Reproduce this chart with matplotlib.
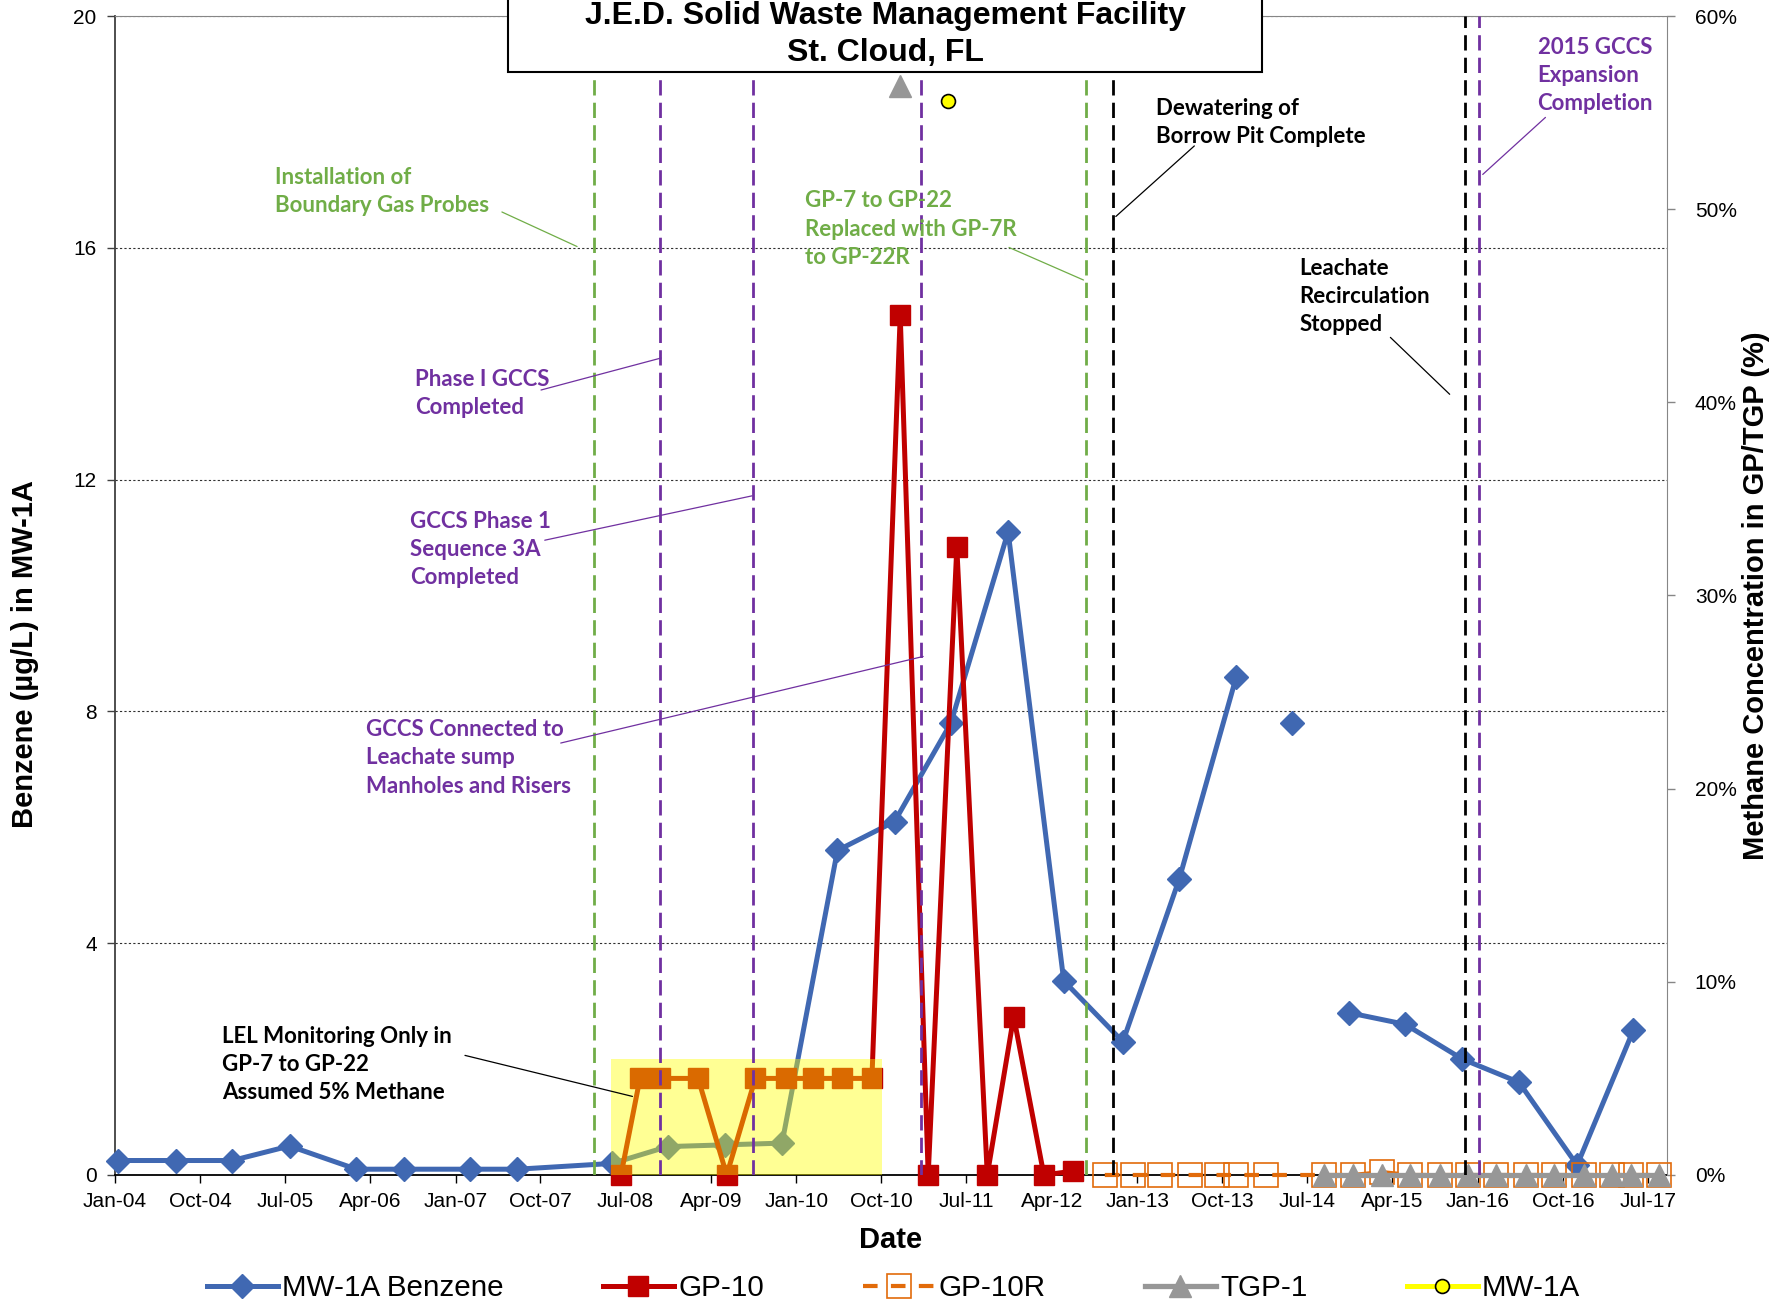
import numpy as np
import pandas as pd
import matplotlib
matplotlib.use('Agg')
import matplotlib.pyplot as plt
import matplotlib.dates as mdates
from matplotlib.patches import Rectangle
from matplotlib.ticker import FuncFormatter

nan = np.nan

# MW-1A benzene (ug/L), left axis
benzene_dates = ['2004-01-10', '2004-07-17', '2005-01-13', '2005-07-16', '2006-02-16',
                 '2006-07-19', '2007-02-16', '2007-07-19', '2008-05-19', '2008-11-13',
                 '2009-05-16', '2009-11-16', '2010-05-13', '2010-11-13', '2011-05-13',
                 '2011-11-13', '2012-05-10', '2012-11-16', '2013-05-16', '2013-11-16',
                 '2014-02-15', '2014-05-13', '2014-08-15', '2014-11-13', '2015-05-13',
                 '2015-11-13', '2016-05-13', '2016-11-16', '2017-05-16']
benzene = [0.25, 0.25, 0.25, 0.5, 0.1, 0.1, 0.1, 0.1, 0.2, 0.49,
           0.52, 0.55, 5.6, 6.1, 7.8, 11.1, 3.35, 2.3, 5.1, 8.6,
           nan, 7.8, nan, 2.8, 2.6, 2.0, 1.6, 0.17, 2.5]

# methane (%), right axis
gp10_dates = ['2008-06-16', '2008-08-16', '2008-10-19', '2009-02-19', '2009-05-22',
              '2009-08-22', '2009-11-28', '2010-02-25', '2010-05-28', '2010-09-01',
              '2010-12-01', '2011-03-01', '2011-06-01', '2011-09-07', '2011-12-01',
              '2012-03-07', '2012-06-10']
gp10 = [0, 5, 5, 5, 0, 5, 5, 5, 5, 5, 44.5, 0, 32.5, 0, 8.2, 0, 0.2]

gp10r_dates = ['2012-09-19', '2012-12-19', '2013-03-16', '2013-06-19', '2013-09-16',
               '2013-11-16', '2014-02-19', '2014-08-25', '2014-11-25', '2015-02-28',
               '2015-05-28', '2015-09-01', '2015-12-01', '2016-03-01', '2016-06-04',
               '2016-09-04', '2016-12-07', '2017-03-07', '2017-05-07', '2017-08-07']
gp10r = [0, 0, 0, 0, 0, 0, 0, 0, 0, 0.15, 0, 0, 0, 0, 0, 0, 0, 0, 0, 0]

tgp1_dates = ['2010-12-01', '2014-06-01', '2014-08-25', '2014-11-25', '2015-02-28',
              '2015-05-28', '2015-09-01', '2015-12-01', '2016-03-01', '2016-06-04',
              '2016-09-04', '2016-12-07', '2017-03-07', '2017-05-07', '2017-08-07']
tgp1 = [56.4, nan, 0, 0, 0, 0, 0, 0, 0, 0, 0, 0, 0, 0, 0]

mw1a_dates = ['2011-05-04']
mw1a = [55.6]

# site events (vertical lines)
event_dates = ['2008-03-20', '2008-10-19', '2009-08-13', '2011-02-07',
               '2012-07-22', '2012-10-16', '2015-11-22', '2016-01-04']
event_kind = ['green', 'purple', 'purple', 'purple', 'green', 'black', 'black', 'purple']

# LEL-only period (box)
lel_start, lel_end, lel_top = '2008-05-14', '2010-10-04', 2.0

BLUE = '#4068B2'
RED = '#C00000'
ORANGE = '#E26B0A'
GRAY = '#979797'
GREEN = '#70AD47'
PURPLE = '#7030A0'
KIND_COLOR = {'green': GREEN, 'purple': PURPLE, 'black': 'black'}

TXT = 'Liberation Sans'
NOTE = 'Lato'

to_dt = pd.to_datetime

fig = plt.figure(figsize=(17.87, 13.04), dpi=100)
ax = fig.add_axes([0.06424, 0.09893, 0.8686, 0.8888])
ax2 = ax.twinx()

ax.set_xlim(to_dt('2004-01-01'), to_dt('2017-09-01'))
ax.set_ylim(0, 20)
ax2.set_ylim(0, 60)

l_benz, = ax.plot(to_dt(benzene_dates), benzene, color=BLUE, lw=3.6, marker='D',
                  ms=12, label='MW-1A Benzene', zorder=3, clip_on=False)
l_gp10, = ax2.plot(to_dt(gp10_dates), gp10, color=RED, lw=3.6, marker='s', ms=14,
                   label='GP-10', zorder=3, clip_on=False)
l_gp10r, = ax2.plot(to_dt(gp10r_dates), gp10r, color=ORANGE, lw=3, ls=(0, (3.5, 3.2)),
                    marker='s', ms=17, mfc='none', mec=ORANGE, mew=1.2,
                    label='GP-10R', zorder=3, clip_on=False)
l_tgp, = ax2.plot(to_dt(tgp1_dates), tgp1, color=GRAY, lw=3.8, marker='^', ms=16,
                  label='TGP-1', zorder=4, clip_on=False)
l_mw, = ax2.plot(to_dt(mw1a_dates), mw1a, color='#FFFF00', lw=3.6, marker='o', ms=10,
                 mfc='#FFFF00', mec='black', mew=1.2, label='MW-1A', zorder=4)

# translucent LEL box over the data
x0 = mdates.date2num(to_dt(lel_start))
x1 = mdates.date2num(to_dt(lel_end))
ax2.add_patch(Rectangle((x0, 0), x1 - x0, lel_top * 3, facecolor='#FFFF00', alpha=0.42,
                        edgecolor='none', zorder=5))

for d, k in zip(event_dates, event_kind):
    ax2.axvline(to_dt(d), color=KIND_COLOR[k], lw=2, ls=(0, (5.5, 2.6)), zorder=6)

# axes styling
ticks = pd.date_range('2004-01-01', '2017-07-01', freq='9MS')
ax.set_xticks(ticks)
ax.xaxis.set_major_formatter(mdates.DateFormatter('%b-%y'))
ax.set_yticks(range(0, 21, 4))
ax2.set_yticks(range(0, 61, 10))
ax2.yaxis.set_major_formatter(FuncFormatter(lambda v, p: f'{v:.0f}%'))

ax.yaxis.grid(True, color='#303030', lw=0.8, ls=(0, (2, 2)))
ax.set_axisbelow(True)

for a in (ax, ax2):
    a.tick_params(labelsize=15, length=6, width=1, direction='out')
    for lab in a.get_xticklabels() + a.get_yticklabels():
        lab.set_fontfamily(TXT)
ax.tick_params(axis='x', pad=6)
ax.tick_params(axis='y', pad=7, color='#404040')
ax2.tick_params(axis='y', pad=14, color='#868686')

ax.spines['left'].set_color('#404040')
ax.spines['left'].set_linewidth(1.3)
ax.spines['bottom'].set_color('black')
ax.spines['bottom'].set_linewidth(1.3)
ax.spines['right'].set_visible(False)
ax.spines['top'].set_visible(False)
ax2.spines['left'].set_visible(False)
ax2.spines['bottom'].set_visible(False)
ax2.spines['right'].set_color('#868686')
ax2.spines['top'].set_color('#868686')

ax.set_ylabel('Benzene (µg/L) in MW-1A', fontsize=21, fontweight='bold', family=TXT)
ax.yaxis.set_label_coords(-0.0488, 0.4495)
ax2.set_ylabel('Methane Concentration in GP/TGP (%)', fontsize=21, fontweight='bold',
               family=TXT, labelpad=4)
ax.set_xlabel('Date', fontsize=21, fontweight='bold', family=TXT, labelpad=11)

# title box
ax2.add_patch(Rectangle((0.2533, 0.9517), 0.4858, 0.07, transform=ax2.transAxes,
                        facecolor='white', edgecolor='black', lw=1.5,
                        clip_on=False, zorder=20))
ax2.text(0.4962, 0.9840, 'J.E.D. Solid Waste Management Facility\nSt. Cloud, FL',
         transform=ax2.transAxes, ha='center', va='center', fontsize=23,
         fontweight='bold', family=TXT, linespacing=1.3, zorder=21)

# event notes: text, colour, text anchor, leader start, leader end (axes fraction)
notes = [
    ('Installation of\nBoundary Gas Probes', GREEN, (0.1032, 0.8487), (0.2494, 0.8309), (0.2978, 0.8011)),
    ('Phase I GCCS\nCompleted', PURPLE, (0.1934, 0.6741), (0.2746, 0.6773), (0.3519, 0.7049)),
    ('GCCS Phase 1\nSequence 3A\nCompleted', PURPLE, (0.1902, 0.5399), (0.2770, 0.5477), (0.4106, 0.5860)),
    ('GCCS Connected to\nLeachate sump\nManholes and Risers', PURPLE, (0.1616, 0.3599), (0.2873, 0.3727), (0.5208, 0.4474)),
    ('GP-7 to GP-22\nReplaced with GP-7R\nto GP-22R', GREEN, (0.4444, 0.8162), (0.5761, 0.8003), (0.6241, 0.7722)),
    ('Dewatering of\nBorrow Pit Complete', 'black', (0.6706, 0.9081), (0.6955, 0.8879), (0.6449, 0.8270)),
    ('Leachate\nRecirculation\nStopped', 'black', (0.7631, 0.7581), (0.8218, 0.7227), (0.8600, 0.6736)),
    ('2015 GCCS\nExpansion\nCompletion', PURPLE, (0.9166, 0.9489), (0.9217, 0.9125), (0.8813, 0.8633)),
    ('LEL Monitoring Only in\nGP-7 to GP-22\nAssumed 5% Methane', 'black', (0.0692, 0.0953), (0.2256, 0.1032), (0.3335, 0.0678)),
]
for text, c, pos, p1, p2 in notes:
    ax2.text(pos[0], pos[1], text, transform=ax2.transAxes, ha='left', va='center',
             color=c, fontsize=16, fontweight='bold', family=NOTE, linespacing=1.42,
             zorder=8)
    ax2.annotate('', xy=p2, xytext=p1, xycoords='axes fraction', textcoords='axes fraction',
                 arrowprops=dict(arrowstyle='-', color=c, lw=0.9, shrinkA=0, shrinkB=0),
                 zorder=8)

fig.legend(handles=[l_benz, l_gp10, l_gp10r, l_tgp, l_mw], loc='center',
           bbox_to_anchor=(0.5, 0.0123), ncol=5, frameon=False,
           prop={'family': TXT, 'size': 21.3}, handlelength=2.4,
           handletextpad=0.15, columnspacing=3.35)

fig.savefig('out.png', dpi=100)
